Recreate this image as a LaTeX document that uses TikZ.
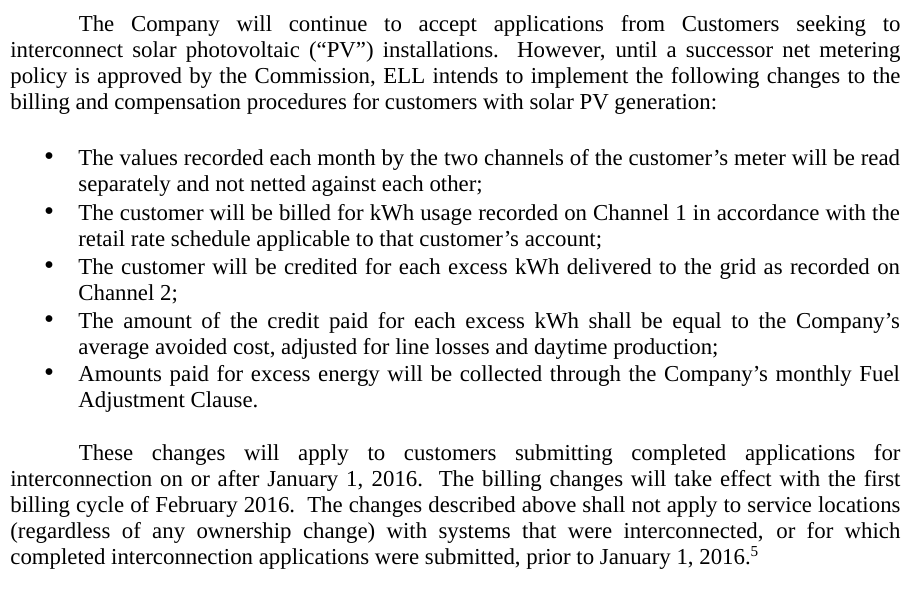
\documentclass[tikz,border=0pt]{standalone}
\usepackage{fontspec}
\setmainfont{Liberation Serif}
\tolerance=10000
\hyphenpenalty=10000
\tikzset{
  textblock/.style={anchor=base west, inner sep=0pt, text width=#1, align=justify,
    font=\fontsize{12}{13.8}\selectfont},
  bulletmark/.style={anchor=base, inner sep=0pt, font=\fontsize{15}{15}\selectfont},
}

\begin{document}
\begin{tikzpicture}[x=0.5258pt, y=-0.5258pt]
        \useasboundingbox (0,0) rectangle (922,593);
        % opening paragraph
        \node [textblock=468pt] (para1) at (10,31) {\hspace*{36pt}The Company will continue to accept applications from Customers seeking to\linebreak
        interconnect solar photovoltaic (“PV”) installations.\ \ However, until a successor net metering\linebreak
        policy is approved by the Commission, ELL intends to implement the following changes to the\linebreak
        billing and compensation procedures for customers with solar PV generation:};

        % bullets
        \foreach \y/\n in {165/1, 220/2, 274/3, 328/4, 381/5}{
            \node [bulletmark] (bul\n) at (49,\y) {•};
        }
        \node [textblock=432pt] (item1) at (78,165) {The values recorded each month by the two channels of the customer’s meter will be read\linebreak
        separately and not netted against each other;};
        \node [textblock=432pt] (item2) at (78,220) {The customer will be billed for kWh usage recorded on Channel 1 in accordance with the\linebreak
        retail rate schedule applicable to that customer’s account;};
        \node [textblock=432pt] (item3) at (78,274) {The customer will be credited for each excess kWh delivered to the grid as recorded on\linebreak
        Channel 2;};
        \node [textblock=432pt] (item4) at (78,328) {The amount of the credit paid for each excess kWh shall be equal to the Company’s\linebreak
        average avoided cost, adjusted for line losses and daytime production;};
        \node [textblock=432pt] (item5) at (78,381) {Amounts paid for excess energy will be collected through the Company’s monthly Fuel\linebreak
        Adjustment Clause.};

        % closing paragraph
        \node [textblock=468pt] (para2) at (10,460) {\hspace*{36pt}These changes will apply to customers submitting completed applications for\linebreak
        interconnection on or after January 1, 2016.\ \ The billing changes will take effect with the first\linebreak
        billing cycle of February 2016.\ \ The changes described above shall not apply to service locations\linebreak
        (regardless of any ownership change) with systems that were interconnected, or for which\linebreak
        completed interconnection applications were submitted, prior to January 1, 2016.\textsuperscript{5}};
    \end{tikzpicture}
\end{document}
